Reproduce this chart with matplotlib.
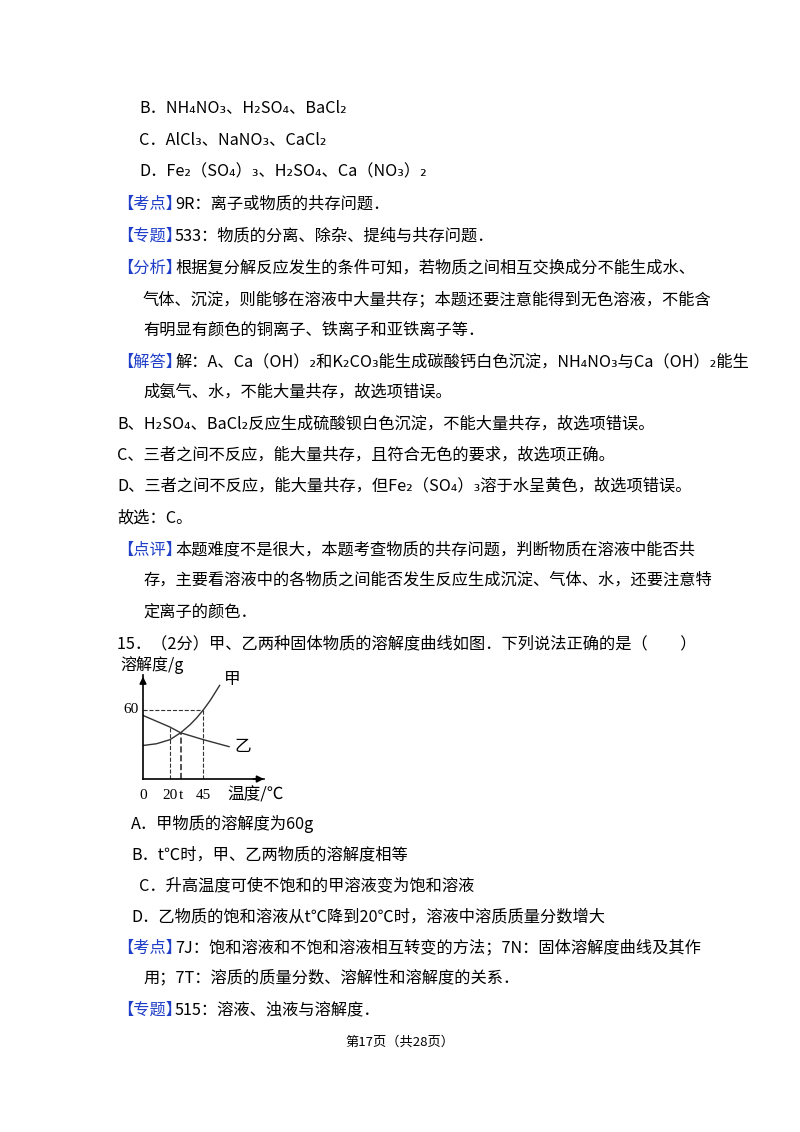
import matplotlib
matplotlib.use("Agg")
import matplotlib.pyplot as plt
import numpy as np

plt.rcParams['font.family'] = ['Noto Sans CJK SC', 'DejaVu Sans']

# chart data
temps_jia = [0, 10, 20, 28, 35, 40, 45, 50, 57]
sol_jia = [29, 30.5, 34, 40, 47, 53, 60, 68, 81]
temps_yi = [0, 20, 28, 45, 64]
sol_yi = [55, 45, 40, 34, 28]
xticks = [0, 20, 28, 45]
xticklabels = ['0', '20', 't', '45']

W, H = 800, 1132
fig = plt.figure(figsize=(W/100, H/100), dpi=100)
fs = 11.7
BLUE = '#1f3fc8'

def T(x, y, s, color='black', size=fs, **kw):
    fig.text(x/W, 1-y/H, s, color=color, fontsize=size, va='center', ha='left', **kw)

def L(x, y, tag, rest):
    T(x, y, '【' + tag + '】', color=BLUE)
    T(x+58, y, rest)

T(139, 108, 'B．NH₄NO₃、H₂SO₄、BaCl₂')
T(139, 140, 'C．AlCl₃、NaNO₃、CaCl₂')
T(139, 172, 'D．Fe₂（SO₄）₃、H₂SO₄、Ca（NO₃）₂')
L(117, 204, '考点', '9R：离子或物质的共存问题．')
L(117, 236, '专题', '533：物质的分离、除杂、提纯与共存问题．')
L(117, 268, '分析', '根据复分解反应发生的条件可知，若物质之间相互交换成分不能生成水、')
T(143, 300, '气体、沉淀，则能够在溶液中大量共存；本题还要注意能得到无色溶液，不能含')
T(143, 330, '有明显有颜色的铜离子、铁离子和亚铁离子等．')
L(117, 362, '解答', '解：A、Ca（OH）₂和K₂CO₃能生成碳酸钙白色沉淀，NH₄NO₃与Ca（OH）₂能生')
T(143, 392, '成氨气、水，不能大量共存，故选项错误。')
T(117, 424, 'B、H₂SO₄、BaCl₂反应生成硫酸钡白色沉淀，不能大量共存，故选项错误。')
T(117, 455, 'C、三者之间不反应，能大量共存，且符合无色的要求，故选项正确。')
T(117, 486, 'D、三者之间不反应，能大量共存，但Fe₂（SO₄）₃溶于水呈黄色，故选项错误。')
T(117, 518, '故选：C。')
L(117, 550, '点评', '本题难度不是很大，本题考查物质的共存问题，判断物质在溶液中能否共')
T(143, 580, '存，主要看溶液中的各物质之间能否发生反应生成沉淀、气体、水，还要注意特')
T(143, 612, '定离子的颜色．')
T(117, 644, '15．（2分）甲、乙两种固体物质的溶解度曲线如图．下列说法正确的是（　　）')

# chart axes: origin pixel (143,779); x 0..90 -> 143..264; y 0..90 -> 779..675
x0, y0, x1, y1 = 143, 779, 264, 675
ax = fig.add_axes([x0/W, 1-y0/H, (x1-x0)/W, (y0-y1)/H])
ax.set_xlim(0, 90); ax.set_ylim(0, 90)
for s in ['top', 'right']:
    ax.spines[s].set_visible(False)
for s in ['left', 'bottom']:
    ax.spines[s].set_linewidth(1.2)
ax.set_xticks([]); ax.set_yticks([])
ax.annotate('', xy=(0, 91), xytext=(0, 80), arrowprops=dict(arrowstyle='-|>', color='black', lw=1.2), annotation_clip=False)
ax.annotate('', xy=(92, 0), xytext=(80, 0), arrowprops=dict(arrowstyle='-|>', color='black', lw=1.2), annotation_clip=False)
ax.plot(temps_jia, sol_jia, color='#333', lw=1)
ax.plot(temps_yi, sol_yi, color='#333', lw=1)
ax.plot([0, 45], [60, 60], ls='--', color='#333', lw=0.8)
ax.plot([45, 45], [0, 60], ls='--', color='#333', lw=0.8)
ax.plot([20, 20], [0, 45], ls='--', color='#333', lw=0.8)
ax.plot([28, 28], [0, 40], ls='--', color='#333', lw=1.2)
for xv, lab in zip(xticks, xticklabels):
    ax.text(xv, -14, lab, ha='center', va='center', fontsize=11, family=['Liberation Serif'])
ax.text(-3, 60, '60', ha='right', va='center', fontsize=11, family=['Liberation Serif'])
ax.text(60, 82, '甲', fontsize=12)
ax.text(68, 24, '乙', fontsize=12)
ax.text(63, -14, '温度/℃', va='center', fontsize=12)
T(120, 665, '溶解度/g', size=11.5)

T(131, 824, 'A．甲物质的溶解度为60g')
T(131, 855, 'B．t℃时，甲、乙两物质的溶解度相等')
T(139, 886, 'C．升高温度可使不饱和的甲溶液变为饱和溶液')
T(131, 917, 'D．乙物质的饱和溶液从t℃降到20℃时，溶液中溶质质量分数增大')
L(117, 948, '考点', '7J：饱和溶液和不饱和溶液相互转变的方法；7N：固体溶解度曲线及其作')
T(143, 978, '用；7T：溶质的质量分数、溶解性和溶解度的关系．')
L(117, 1010, '专题', '515：溶液、浊液与溶解度．')
fig.text(0.5, 1-1042/H, '第17页（共28页）', ha='center', va='center', fontsize=9.5)

fig.savefig('out.png', dpi=100)
